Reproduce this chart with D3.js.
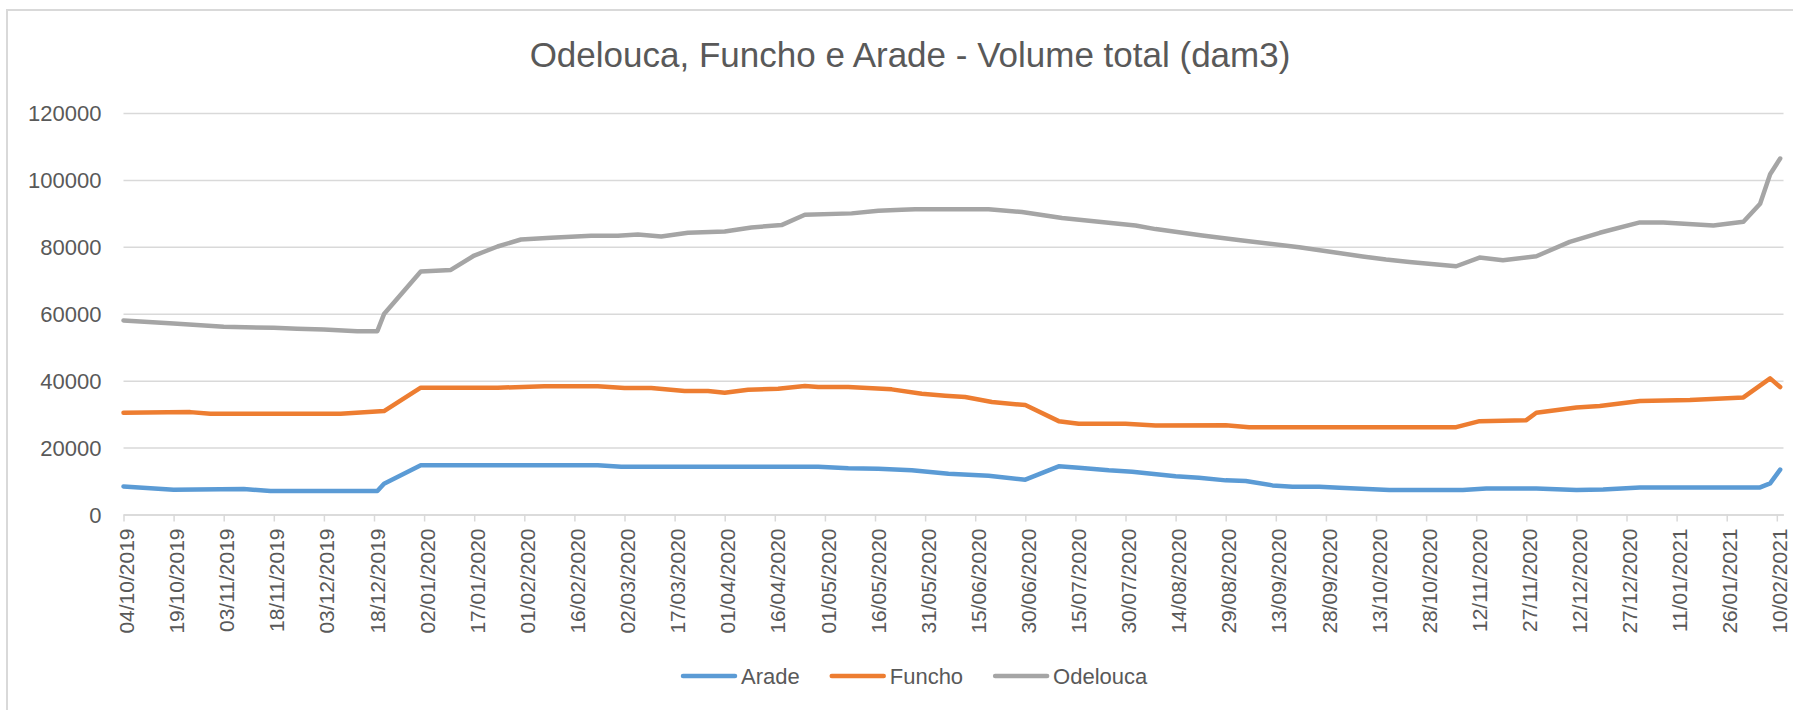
<!DOCTYPE html>
<html>
<head>
<meta charset="utf-8">
<script src="https://d3js.org/d3.v7.min.js"></script>
<style>
  body { margin: 0; background: #fff; }
  text { font-family: "Liberation Sans", Arial, sans-serif; fill: #595959; }
</style>
</head>
<body>
<div id="chart"></div>
<script>
// Series names and colours (Excel default palette)
var seriesNames = ["Arade", "Funcho", "Odelouca"];
var seriesColors = ["#5B9BD5", "#ED7D31", "#A5A5A5"];

// Values: [date, volume dam3]
var aradeData = [
  ["2019-10-04", 8400], ["2019-10-19", 7400], ["2019-11-09", 7600], ["2019-11-17", 7000],
  ["2019-12-19", 7000], ["2019-12-21", 9200], ["2020-01-01", 14700], ["2020-02-23", 14700],
  ["2020-03-01", 14300], ["2020-04-29", 14300], ["2020-05-08", 13800], ["2020-05-17", 13700],
  ["2020-05-27", 13200], ["2020-06-07", 12200], ["2020-06-19", 11600], ["2020-06-30", 10400],
  ["2020-07-10", 14400], ["2020-07-16", 14000], ["2020-07-25", 13200], ["2020-08-01", 12800],
  ["2020-08-14", 11400], ["2020-08-21", 11000], ["2020-08-29", 10200], ["2020-09-04", 10000],
  ["2020-09-12", 8700], ["2020-09-18", 8300], ["2020-09-26", 8300], ["2020-10-02", 8000],
  ["2020-10-17", 7300], ["2020-11-08", 7300], ["2020-11-15", 7800], ["2020-11-30", 7800],
  ["2020-12-12", 7300], ["2020-12-20", 7500], ["2020-12-31", 8100], ["2021-02-05", 8100],
  ["2021-02-08", 9300], ["2021-02-11", 13400]
];

var funchoData = [
  ["2019-10-04", 30400], ["2019-10-24", 30600], ["2019-10-30", 30100], ["2019-12-08", 30100],
  ["2019-12-21", 30900], ["2020-01-01", 37900], ["2020-01-24", 37900], ["2020-02-07", 38300],
  ["2020-02-23", 38300], ["2020-03-02", 37800], ["2020-03-10", 37800], ["2020-03-20", 36900],
  ["2020-03-27", 36900], ["2020-04-01", 36400], ["2020-04-08", 37300], ["2020-04-17", 37600],
  ["2020-04-25", 38400], ["2020-04-29", 38100], ["2020-05-08", 38100], ["2020-05-21", 37400],
  ["2020-05-30", 36100], ["2020-06-06", 35500], ["2020-06-12", 35100], ["2020-06-20", 33600],
  ["2020-06-30", 32700], ["2020-07-10", 27900], ["2020-07-16", 27100], ["2020-07-30", 27100],
  ["2020-08-08", 26600], ["2020-08-29", 26700], ["2020-09-05", 26100], ["2020-11-06", 26100],
  ["2020-11-13", 27900], ["2020-11-27", 28200], ["2020-11-30", 30400], ["2020-12-12", 32000],
  ["2020-12-19", 32400], ["2020-12-31", 33900], ["2021-01-15", 34200], ["2021-01-31", 35000],
  ["2021-02-08", 40700], ["2021-02-11", 38100]
];

var odeloucaData = [
  ["2019-10-04", 58000], ["2019-10-19", 57100], ["2019-11-03", 56100], ["2019-11-18", 55800],
  ["2019-11-25", 55500], ["2019-12-03", 55300], ["2019-12-13", 54800], ["2019-12-19", 54800],
  ["2019-12-21", 59900], ["2020-01-01", 72600], ["2020-01-10", 73100], ["2020-01-17", 77400],
  ["2020-01-24", 80100], ["2020-01-31", 82200], ["2020-02-09", 82700], ["2020-02-21", 83300],
  ["2020-02-29", 83300], ["2020-03-06", 83700], ["2020-03-13", 83100], ["2020-03-21", 84200],
  ["2020-04-01", 84600], ["2020-04-09", 85800], ["2020-04-18", 86500], ["2020-04-25", 89600],
  ["2020-05-09", 90000], ["2020-05-17", 90800], ["2020-05-24", 91100], ["2020-05-28", 91200],
  ["2020-06-19", 91200], ["2020-06-29", 90400], ["2020-07-11", 88600], ["2020-08-02", 86400],
  ["2020-08-08", 85300], ["2020-08-22", 83400], ["2020-09-03", 81900], ["2020-09-20", 79900],
  ["2020-10-09", 77100], ["2020-10-16", 76200], ["2020-10-23", 75500], ["2020-11-06", 74200],
  ["2020-11-13", 76800], ["2020-11-20", 76000], ["2020-11-30", 77200], ["2020-12-10", 81500],
  ["2020-12-19", 84200], ["2020-12-31", 87300], ["2021-01-07", 87300], ["2021-01-22", 86400],
  ["2021-01-31", 87500], ["2021-02-05", 92900], ["2021-02-08", 101700], ["2021-02-11", 106400]
];

// y ticks and x tick dates (every 15 days)
var yTicks = [0, 20000, 40000, 60000, 80000, 100000, 120000];
var tickStart = "2019-10-04";
var tickCount = 34;
var axisEnd = "2021-02-12";

var chartTitle = "Odelouca, Funcho e Arade - Volume total (dam3)";

var svgWidth = 1793;
var svgHeight = 710;

var margin = { top: 113, right: 9.5, bottom: 195.5, left: 123.5 };
var width = svgWidth - margin.left - margin.right;
var height = svgHeight - margin.top - margin.bottom;

var parseDate = d3.timeParse("%Y-%m-%d");
var formatDate = d3.timeFormat("%d/%m/%Y");

var svg = d3.select("#chart")
  .append("svg")
  .attr("width", svgWidth)
  .attr("height", svgHeight)
  .style("display", "block");

svg.append("rect")
  .attr("width", svgWidth)
  .attr("height", svgHeight)
  .attr("fill", "#fff");

// chart area border (only top and left edges are inside the picture)
svg.append("rect")
  .attr("x", 7)
  .attr("y", 10)
  .attr("width", svgWidth)
  .attr("height", svgHeight)
  .attr("fill", "none")
  .attr("stroke", "#D9D9D9")
  .attr("stroke-width", 2);

svg.append("text")
  .attr("x", 910)
  .attr("y", 67)
  .attr("text-anchor", "middle")
  .style("font-size", "35px")
  .text(chartTitle);

var chartGroup = svg.append("g")
  .attr("transform", `translate(${margin.left}, ${margin.top})`);

var x0 = parseDate(tickStart);
var tickDates = d3.range(tickCount).map(i => d3.timeDay.offset(x0, i * 15));

var xScale = d3.scaleTime()
  .domain([x0, parseDate(axisEnd)])
  .range([0, width]);

var yScale = d3.scaleLinear()
  .domain([0, 120000])
  .range([height, 0]);

// gridlines
var leftAxis = d3.axisLeft(yScale)
  .tickValues(yTicks)
  .tickSize(-width)
  .tickPadding(22)
  .tickFormat(d3.format("d"));

var yAxisG = chartGroup.append("g").call(leftAxis);
yAxisG.select(".domain").remove();
yAxisG.selectAll("line")
  .attr("stroke", "#D9D9D9")
  .attr("stroke-width", 1.5);
yAxisG.selectAll("text")
  .attr("dy", "0.36em")
  .style("font-size", "22px")
  .style("font-family", "Liberation Sans, Arial, sans-serif")
  .attr("fill", "#595959");

// x axis with rotated date labels
var bottomAxis = d3.axisBottom(xScale)
  .tickValues(tickDates)
  .tickSize(7)
  .tickSizeOuter(0)
  .tickFormat(formatDate);

var xAxisG = chartGroup.append("g")
  .attr("transform", `translate(0, ${height})`)
  .call(bottomAxis);
xAxisG.select(".domain")
  .attr("stroke", "#D9D9D9")
  .attr("stroke-width", 1.5);
xAxisG.selectAll("line")
  .attr("stroke", "#D9D9D9")
  .attr("stroke-width", 1.5);
xAxisG.selectAll("text")
  .attr("transform", "rotate(-90)")
  .attr("text-anchor", "end")
  .attr("x", -14)
  .attr("y", 0)
  .attr("dy", "0.48em")
  .style("font-size", "21px")
  .style("font-family", "Liberation Sans, Arial, sans-serif")
  .attr("fill", "#595959");

// lines
var allSeries = [aradeData, funchoData, odeloucaData].map(function (rows, i) {
  return {
    name: seriesNames[i],
    color: seriesColors[i],
    values: rows.map(r => ({ date: parseDate(r[0]), value: r[1] }))
  };
});

var line = d3.line()
  .x(d => xScale(d.date))
  .y(d => yScale(d.value));

chartGroup.selectAll(".series")
  .data(allSeries)
  .enter()
  .append("path")
  .attr("class", "series")
  .attr("d", d => line(d.values))
  .attr("fill", "none")
  .attr("stroke", d => d.color)
  .attr("stroke-width", 4.5)
  .attr("stroke-linejoin", "round")
  .attr("stroke-linecap", "round");

// legend
var legend = svg.append("g")
  .attr("transform", "translate(681, 676)");

var legendX = 0;
allSeries.forEach(function (s) {
  var item = legend.append("g")
    .attr("transform", `translate(${legendX}, 0)`);
  item.append("line")
    .attr("x1", 2)
    .attr("x2", 54)
    .attr("stroke", s.color)
    .attr("stroke-width", 4.5)
    .attr("stroke-linecap", "round");
  var label = item.append("text")
    .attr("x", 60)
    .attr("dy", "0.36em")
    .style("font-size", "22px")
    .text(s.name);
  legendX += 60 + label.node().getComputedTextLength() + 30;
});
</script>
</body>
</html>
